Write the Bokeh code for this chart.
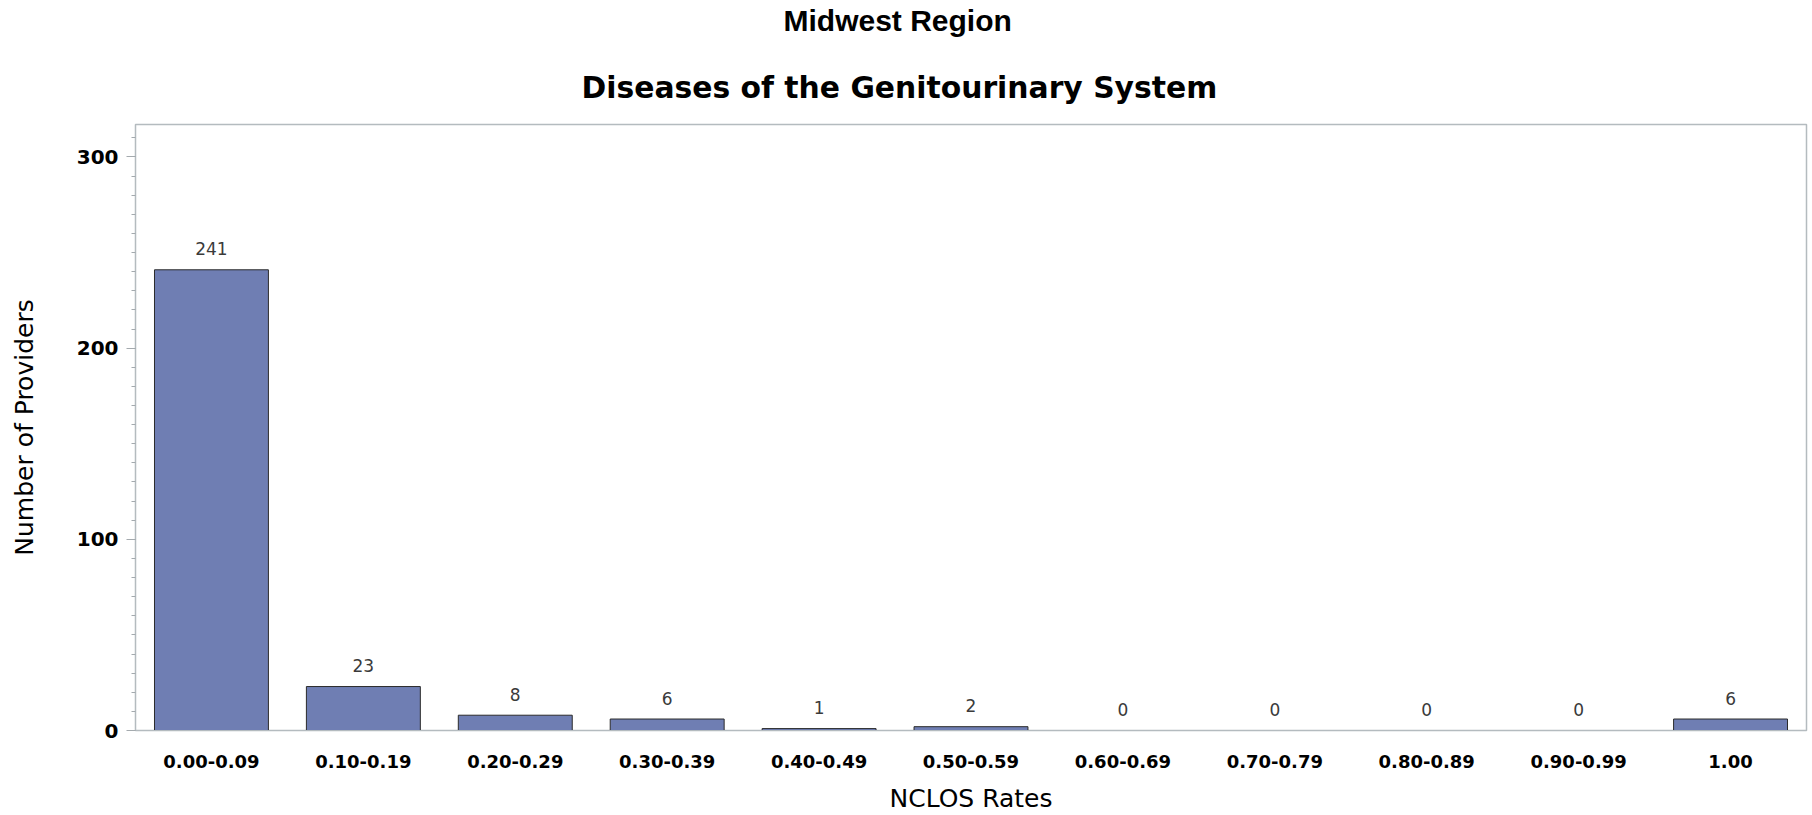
from bokeh.plotting import figure
from bokeh.models import ColumnDataSource, FactorRange, Range1d, SingleIntervalTicker, Title
from bokeh.core.properties import value
from bokeh.embed import file_html
from bokeh.resources import INLINE

categories = ["0.00-0.09", "0.10-0.19", "0.20-0.29", "0.30-0.39", "0.40-0.49",
              "0.50-0.59", "0.60-0.69", "0.70-0.79", "0.80-0.89", "0.90-0.99", "1.00"]
counts = [241, 23, 8, 6, 1, 2, 0, 0, 0, 0, 6]
count_labels = [str(c) for c in counts]
y_tick_step = 100
y_max = 317

super_title = "Midwest Region"
main_title = "Diseases of the Genitourinary System"
x_label = "NCLOS Rates"
y_label = "Number of Providers"

src = ColumnDataSource(dict(
    cat=categories,
    n=counts,
    lab=count_labels,
    la=[1.0 if c > 0 else 0.0 for c in counts],
))

W, H = 1812, 815
FRAME_LEFT = 135

p = figure(width=W, height=H,
           x_range=FactorRange(factors=categories, range_padding=0),
           y_range=Range1d(0, y_max),
           output_backend="svg", toolbar_location=None,
           min_border_left=FRAME_LEFT, min_border_right=6,
           min_border_top=124, min_border_bottom=85)

p.background_fill_color = "white"
p.border_fill_color = "white"
p.outline_line_color = "#B4BBBF"
p.outline_line_width = 1.5
p.xgrid.visible = False
p.ygrid.visible = False

# titles: p.title sits outermost; panels added first sit nearest the frame
p.title = Title(text=super_title, align="left", offset=648,
                text_font="Liberation Sans", text_font_style="bold",
                text_font_size="30px", text_color="#000000", standoff=0)
p.add_layout(Title(text=main_title, align="left", offset=446,
                   text_font="DejaVu Sans", text_font_style="bold",
                   text_font_size="29.8px", text_color="#000000", standoff=40), "above")
# thin spacer between the two title lines
p.add_layout(Title(text=" ", align="left", offset=0, text_font_size="2px",
                   text_color="#FFFFFF", standoff=7), "above")

p.vbar(x="cat", top="n", width=0.75, source=src,
       fill_color="#6F7EB3", line_color="#2B2B2B", line_width=1, line_alpha="la")

p.text(x="cat", y="n", text="lab", source=src,
       text_align="center", text_baseline="alphabetic", y_offset=-21,
       text_font=value("DejaVu Sans"), text_font_size="17px", text_color="#3A3A3A")

# y axis
ya = p.yaxis[0]
ya.ticker = SingleIntervalTicker(interval=y_tick_step, num_minor_ticks=10)
ya.axis_line_color = "#B4BBBF"
ya.major_tick_line_color = "#A4AAAE"
ya.minor_tick_line_color = "#A4AAAE"
ya.major_tick_out = 9
ya.major_tick_in = 0
ya.minor_tick_out = 4
ya.minor_tick_in = 0
ya.major_label_standoff = 8
ya.major_label_text_font = "DejaVu Sans"
ya.major_label_text_font_style = "bold"
ya.major_label_text_font_size = "20px"
ya.major_label_text_color = "#000000"
ya.axis_label = y_label
ya.axis_label_text_font = "DejaVu Sans"
ya.axis_label_text_font_style = "normal"
ya.axis_label_text_font_size = "25px"
ya.axis_label_text_color = "#000000"
ya.axis_label_standoff = 35

# x axis
xa = p.xaxis[0]
xa.axis_line_color = "#B4BBBF"
xa.major_tick_out = 0
xa.major_tick_in = 0
xa.minor_tick_line_color = None
xa.major_label_standoff = 24
xa.major_label_text_font = "DejaVu Sans"
xa.major_label_text_font_style = "bold"
xa.major_label_text_font_size = "18px"
xa.major_label_text_color = "#000000"
xa.axis_label = x_label
xa.axis_label_text_font = "DejaVu Sans"
xa.axis_label_text_font_style = "normal"
xa.axis_label_text_font_size = "25px"
xa.axis_label_text_color = "#000000"
xa.axis_label_standoff = 13

open("out.html", "w").write(file_html(p, INLINE))
